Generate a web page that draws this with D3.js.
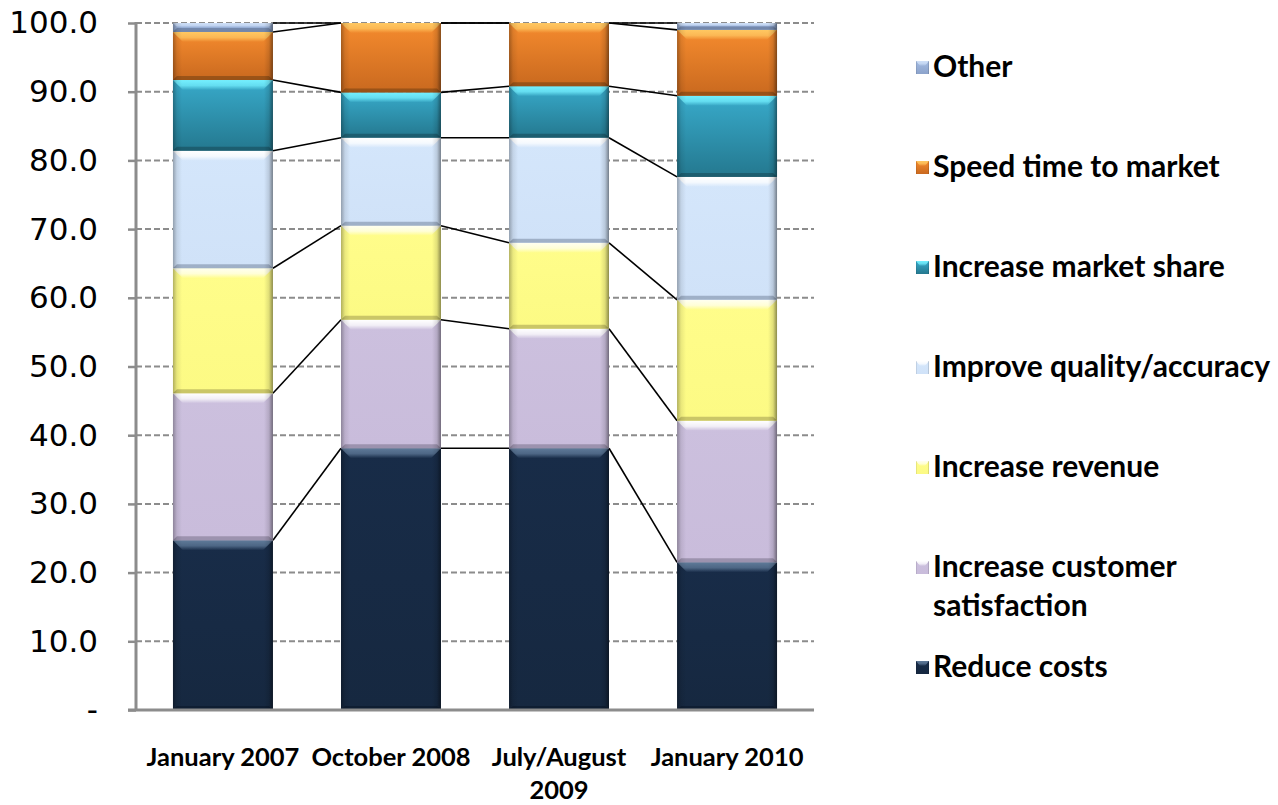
<!DOCTYPE html>
<html><head><meta charset="utf-8">
<script src="https://cdn.jsdelivr.net/npm/d3@7"></script>
<style>body{margin:0;background:#fff}svg{display:block}</style>
</head><body><svg id="chart" width="1278" height="805"></svg>
<script>
const categories = ["January 2007", "October 2008", "July/August 2009", "January 2010"];
const seriesNames = ["Reduce costs", "Increase customer satisfaction", "Increase revenue",
  "Improve quality/accuracy", "Increase market share", "Speed time to market", "Other"];
const reduceCosts          = [24.7, 38.1, 38.1, 21.5];
const customerSatisfaction = [21.4, 18.7, 17.4, 20.6];
const increaseRevenue      = [18.2, 13.7, 12.5, 17.6];
const improveQuality       = [17.1, 12.8, 15.3, 17.9];
const increaseMarketShare  = [10.3, 6.6, 7.5, 11.8];
const speedTimeToMarket    = [7.0, 10.1, 9.2, 9.6];
const other                = [1.3, 0.0, 0.0, 1.0];
const yTicks = [0, 10, 20, 30, 40, 50, 60, 70, 80, 90, 100];

const seriesValues = [reduceCosts, customerSatisfaction, increaseRevenue, improveQuality,
  increaseMarketShare, speedTimeToMarket, other];

// styles: body top, body bottom, highlight (top bevel), lowlight (bottom bevel)
const styles = [
  {t:"#182C48", b:"#162840", hi:"#5F7A99", lo:"#0C1829"},
  {t:"#CCC0DE", b:"#C9BCDB", hi:"#FFFFFF", lo:"#7F7790"},
  {t:"#FFFD8A", b:"#FCFA84", hi:"#FFFFF0", lo:"#A8A454"},
  {t:"#D4E6FB", b:"#D0E2F8", hi:"#FFFFFF", lo:"#7F8FA6"},
  {t:"#38AACA", b:"#24788F", hi:"#74F0FF", lo:"#174B5A"},
  {t:"#F58B2E", b:"#C9691F", hi:"#FFC862", lo:"#7A4212"},
  {t:"#A3BBE2", b:"#8CA3CB", hi:"#CFE0F8", lo:"#5F7192"}
];

const table = categories.map((c, i) => {
  const row = {category: c};
  seriesNames.forEach((s, j) => row[s] = seriesValues[j][i]);
  return row;
});
const stacked = d3.stack().keys(seriesNames)(table);

const svg = d3.select("#chart");
const L = 136, R = 814, T = 23, B = 710;

const x = d3.scaleBand().domain(categories).range([L, R]).paddingInner(0.405).paddingOuter(0.22);
const y = d3.scaleLinear().domain([0, 100]).range([B, T]);

const defs = svg.append("defs");
styles.forEach((s, i) => {
  const g = defs.append("linearGradient").attr("id", "body" + i).attr("x1", 0).attr("y1", 0).attr("x2", 0).attr("y2", 1);
  g.append("stop").attr("offset", "0%").attr("stop-color", s.t);
  g.append("stop").attr("offset", "100%").attr("stop-color", s.b);
  const h = defs.append("linearGradient").attr("id", "hi" + i).attr("x1", 0).attr("y1", 0).attr("x2", 0).attr("y2", 1);
  h.append("stop").attr("offset", "0%").attr("stop-color", s.hi).attr("stop-opacity", 1);
  h.append("stop").attr("offset", "55%").attr("stop-color", s.hi).attr("stop-opacity", 0.75);
  h.append("stop").attr("offset", "100%").attr("stop-color", s.hi).attr("stop-opacity", 0);
});
const side = defs.append("linearGradient").attr("id", "side").attr("x1", 0).attr("y1", 0).attr("x2", 1).attr("y2", 0);
[[0, 0.3], [0.04, 0.08], [0.09, 0], [0.91, 0], [0.96, 0.12], [1, 0.45]].forEach(([o, a]) =>
  side.append("stop").attr("offset", o).attr("stop-color", "#000").attr("stop-opacity", a));

// grid
svg.append("g").selectAll("line").data(yTicks.filter(d => d > 0)).join("line")
  .attr("x1", L).attr("x2", R).attr("y1", d => y(d)).attr("y2", d => y(d))
  .attr("stroke", "#8C8C8C").attr("stroke-width", 2).attr("stroke-dasharray", "6,3");

// series lines
const lineG = svg.append("g");
stacked.forEach(layer => {
  for (let i = 0; i < categories.length - 1; i++) {
    lineG.append("line")
      .attr("x1", x(categories[i]) + x.bandwidth()).attr("y1", y(layer[i][1]))
      .attr("x2", x(categories[i + 1])).attr("y2", y(layer[i + 1][1]))
      .attr("stroke", "#000").attr("stroke-width", 1.6);
  }
});

// bars
const barG = svg.append("g");
stacked.forEach((layer, si) => {
  const s = styles[si];
  layer.forEach((d, i) => {
    const x0 = x(categories[i]), w = x.bandwidth();
    const y0 = y(d[1]), h = y(d[0]) - y(d[1]);
    if (h <= 0.01) return;
    const g = barG.append("g");
    g.append("rect").attr("x", x0).attr("y", y0).attr("width", w).attr("height", h).attr("fill", `url(#body${si})`);
    const bt = Math.min(10, h / 2), bb = Math.min(4, h / 2);
    g.append("polygon").attr("points", [[x0, y0], [x0 + w, y0], [x0 + w - bt, y0 + bt], [x0 + bt, y0 + bt]].map(p => p.join(",")).join(" "))
      .attr("fill", `url(#hi${si})`);
    g.append("polygon").attr("points", [[x0, y0 + h], [x0 + w, y0 + h], [x0 + w - bb, y0 + h - bb], [x0 + bb, y0 + h - bb]].map(p => p.join(",")).join(" "))
      .attr("fill", s.lo).attr("opacity", 0.6);
    g.append("rect").attr("x", x0).attr("y", y0).attr("width", w).attr("height", h).attr("fill", "url(#side)");
  });
});

// y axis
const yAxis = svg.append("g").attr("transform", `translate(${L},0)`)
  .call(d3.axisLeft(y).tickValues(yTicks).tickSize(8).tickPadding(30)
    .tickFormat(d => d === 0 ? "-" : d3.format(".1f")(d)));
yAxis.select(".domain").remove();
yAxis.selectAll(".tick line").attr("stroke", "#8C8C8C").attr("stroke-width", 2.5);
yAxis.selectAll("text").attr("font-family", "DejaVu Sans").attr("font-size", 31).attr("fill", "#000");
svg.append("line").attr("x1", L).attr("x2", L).attr("y1", T - 1).attr("y2", B + 1).attr("stroke", "#8C8C8C").attr("stroke-width", 3);
svg.append("line").attr("x1", L - 8).attr("x2", R).attr("y1", B).attr("y2", B).attr("stroke", "#8C8C8C").attr("stroke-width", 3);

// x axis
const xAxis = svg.append("g").attr("transform", `translate(0,${B})`)
  .call(d3.axisBottom(x).tickSize(0).tickPadding(0));
xAxis.select(".domain").remove();
xAxis.selectAll("text").each(function(d) {
  const t = d3.select(this);
  t.text(null).attr("font-family", "Lato").attr("font-weight", "bold").attr("font-size", 25.5)
    .attr("fill", "#000").attr("y", 0).attr("dy", null);
  let lines = [d];
  if (d.length > 14) { const k = d.lastIndexOf(" "); lines = [d.slice(0, k), d.slice(k + 1)]; }
  lines.forEach((ln, j) => t.append("tspan").attr("x", 0).attr("y", 56 + j * 33).text(ln));
});

// legend
const legend = svg.append("g");
seriesNames.slice().reverse().forEach((name, k) => {
  const si = seriesNames.length - 1 - k;
  const cy = 67 + k * 100;
  const g = legend.append("g");
  g.append("rect").attr("x", 916).attr("y", cy - 6).attr("width", 13).attr("height", 13).attr("fill", `url(#body${si})`);
  g.append("polygon").attr("points", `916,${cy - 6} 929,${cy - 6} 925,${cy - 1} 920,${cy - 1}`).attr("fill", `url(#hi${si})`);
  g.append("rect").attr("x", 916).attr("y", cy - 6).attr("width", 13).attr("height", 13).attr("fill", "url(#side)");
  let lines = [name];
  if (name.length > 26) { const k2 = name.lastIndexOf(" "); lines = [name.slice(0, k2), name.slice(k2 + 1)]; }
  const t = g.append("text").attr("font-family", "Lato").attr("font-weight", "bold").attr("font-size", 30).attr("fill", "#000");
  lines.forEach((ln, j) => t.append("tspan").attr("x", 933).attr("y", cy + 10 + j * 39).text(ln));
});
</script></body></html>
